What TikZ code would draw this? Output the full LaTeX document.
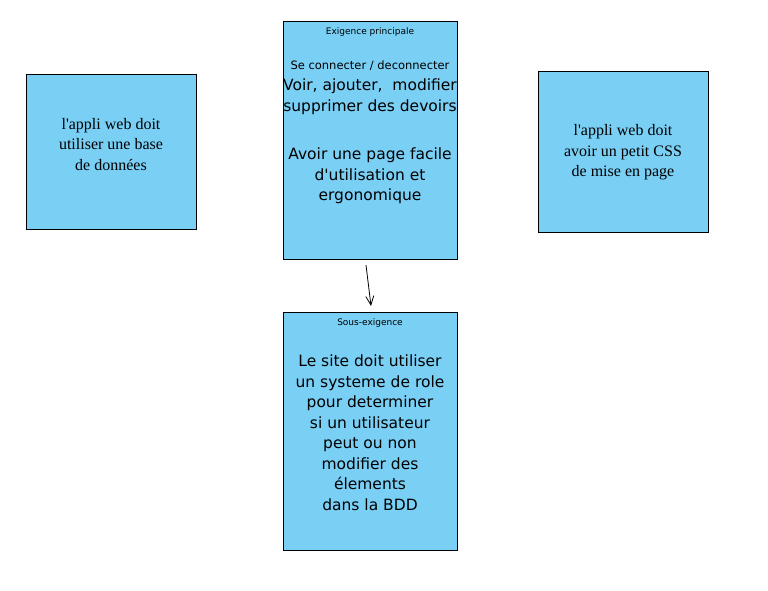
\documentclass[tikz,border=0pt]{standalone}
\usepackage{fontspec}
\usetikzlibrary{arrows.meta}
\setmainfont{Liberation Serif}
\newfontfamily\boxsans{DejaVu Sans}
\definecolor{boxfill}{RGB}{122,207,245}
\begin{document}
\begin{tikzpicture}[x=1pt,y=-1pt,
  reqbox/.style={draw=black, fill=boxfill, line width=0.8pt},
  serifline/.style={font=\fontsize{16}{20.5}\selectfont, align=center, inner sep=0pt},
  sansline/.style={font=\boxsans\fontsize{15.5}{20.5}\selectfont, align=center, inner sep=0pt},
  smallline/.style={font=\boxsans\fontsize{9}{10}\selectfont, inner sep=0pt},
  midline/.style={font=\boxsans\fontsize{11.5}{14}\selectfont, inner sep=0pt}]
\useasboundingbox (0,0) rectangle (768,590);
% boxes
\draw[reqbox] (26,74) rectangle (196,229);
\draw[reqbox] (283,21) rectangle (457,259);
\draw[reqbox] (538,71) rectangle (708,232);
\draw[reqbox] (283,312) rectangle (457,550);
% texts
\node (ltext) [serifline] at (111,144.5) {l\textquotesingle appli web doit\\utiliser une base\\de donn\'ees};
\node (rtext) [serifline] at (623,152.5) {l\textquotesingle appli web doit\\avoir un petit CSS\\de mise en page};
\node (mtitle) [smallline] at (370,32) {Exigence principale};
\node (mconn) [midline] at (370,66) {Se connecter / deconnecter};
\node (mvoir) [sansline] at (370,96.5) {Voir, ajouter,\ \ modifier\\supprimer des devoirs};
\node (mavoir) [sansline] at (370,176) {Avoir une page facile\\d\textquotesingle utilisation et\\ergonomique};
\node (stitle) [smallline] at (370,323.5) {Sous-exigence};
\node (stext) [sansline] at (370,432.5) {Le site doit utiliser\\un systeme de role\\pour determiner\\si un utilisateur\\peut ou non\\modifier des\\\'elements\\dans la BDD};
% arrow
\coordinate (astart) at (366,265);
\coordinate (aend) at (371,306);
\draw[-{Straight Barb[length=9pt,width=8pt]}, line width=0.8pt] (astart) -- (aend);
\end{tikzpicture}
\end{document}
